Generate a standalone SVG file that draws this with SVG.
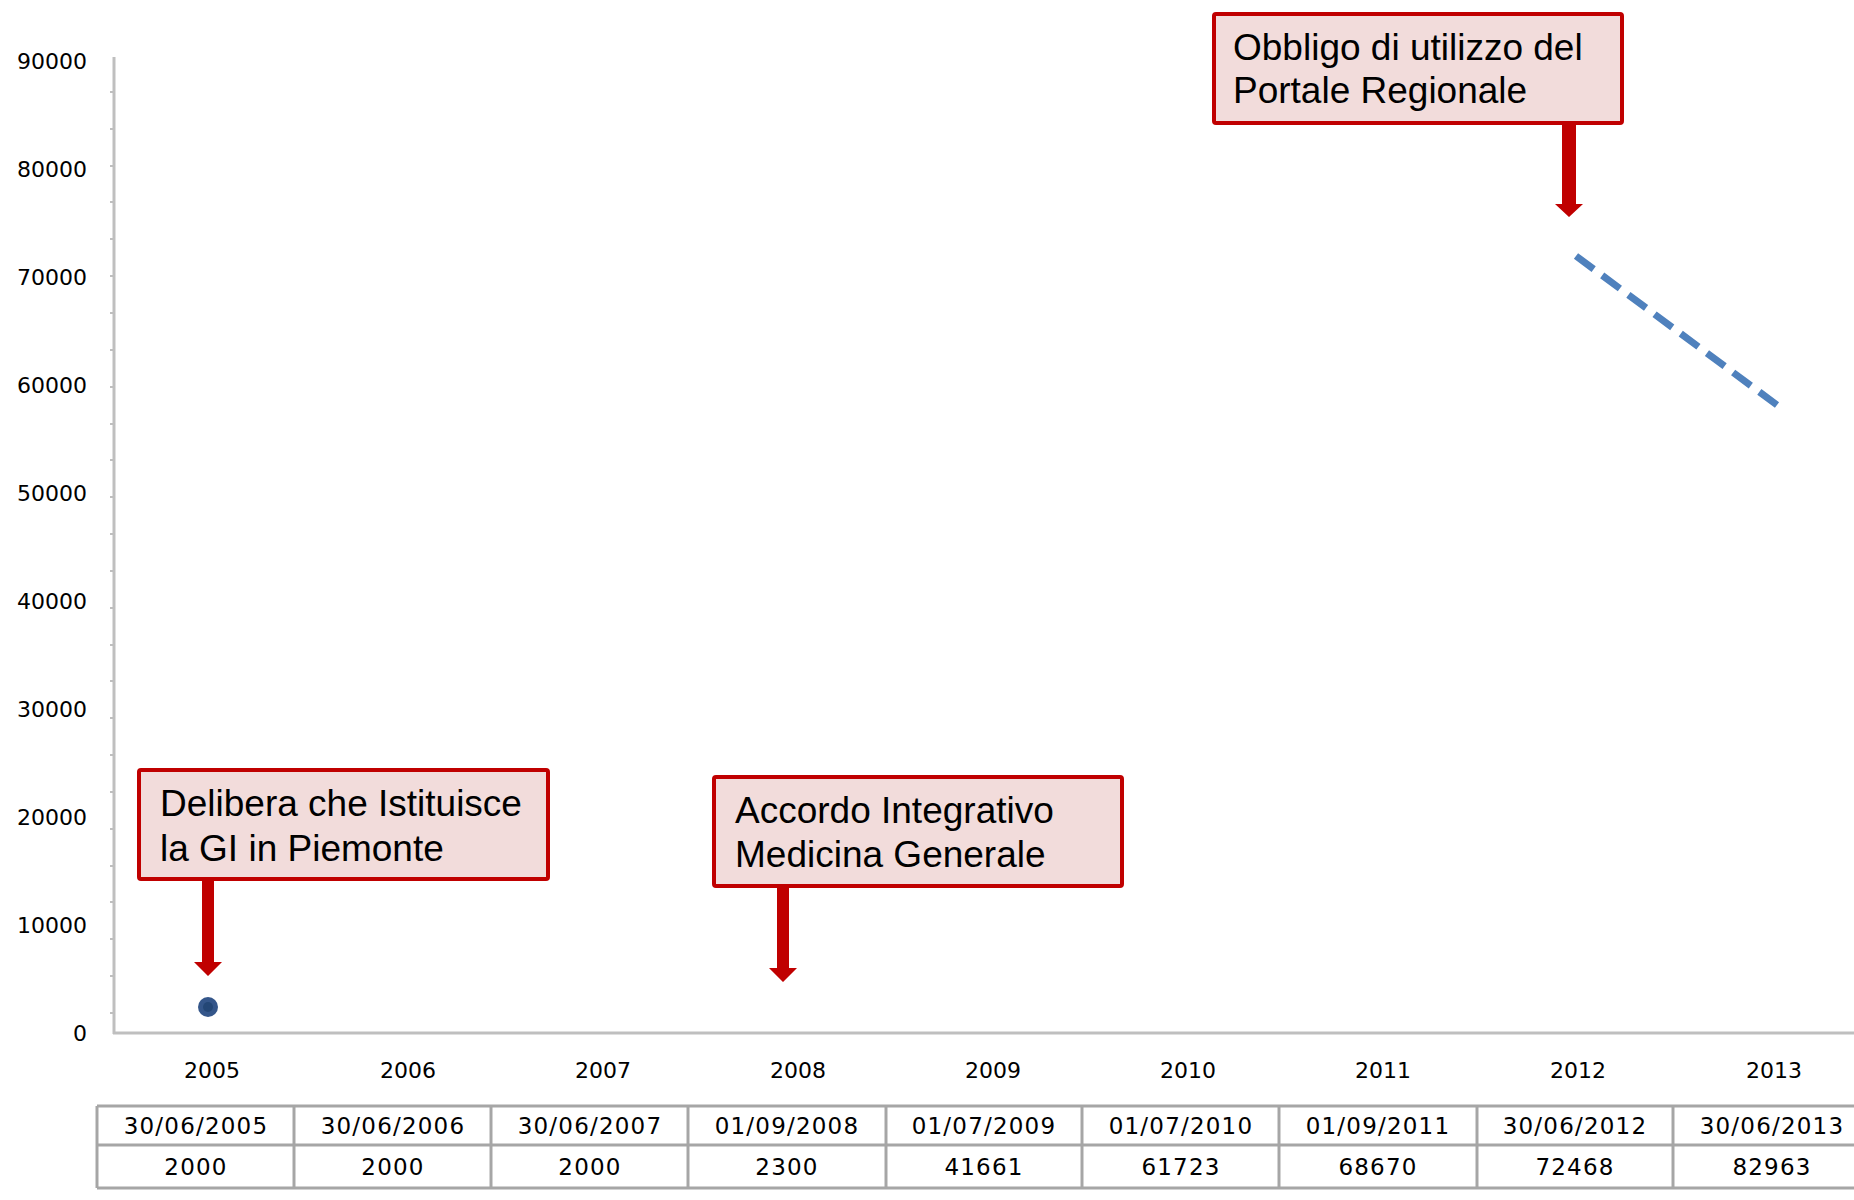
<svg xmlns="http://www.w3.org/2000/svg" width="1854" height="1200" viewBox="0 0 1854 1200">
<style>
.ax{stroke:#bfbfbf;stroke-width:3;fill:none}
.tk{stroke:#bfbfbf;stroke-width:2}
.yl{font-family:"DejaVu Sans",sans-serif;font-size:22px;fill:#000;text-anchor:end}
.xl{font-family:"DejaVu Sans",sans-serif;font-size:22px;fill:#000;text-anchor:middle}
.tb{font-family:"DejaVu Sans",sans-serif;font-size:23px;fill:#000;text-anchor:middle;letter-spacing:1.2px}
.tl{stroke:#a6a6a6;stroke-width:3;fill:none}
.box{fill:#f2dcdb;stroke:#c00000;stroke-width:4}
.bt{font-family:"Liberation Sans",Arial,sans-serif;font-size:37px;fill:#000}
.arr{fill:#c00000}
</style>
<rect width="1854" height="1200" fill="#fff"/>
<g id="axes">
<line class="ax" x1="114" y1="57" x2="114" y2="1034"/>
<line class="ax" x1="113" y1="1033" x2="1854" y2="1033"/>
<g class="tk">
<line x1="110" y1="92" x2="114" y2="92"/><line x1="110" y1="129" x2="114" y2="129"/><line x1="110" y1="166" x2="114" y2="166"/><line x1="110" y1="202" x2="114" y2="202"/><line x1="110" y1="239" x2="114" y2="239"/><line x1="110" y1="276" x2="114" y2="276"/><line x1="110" y1="313" x2="114" y2="313"/><line x1="110" y1="350" x2="114" y2="350"/><line x1="110" y1="387" x2="114" y2="387"/><line x1="110" y1="424" x2="114" y2="424"/><line x1="110" y1="460" x2="114" y2="460"/><line x1="110" y1="497" x2="114" y2="497"/><line x1="110" y1="534" x2="114" y2="534"/><line x1="110" y1="571" x2="114" y2="571"/><line x1="110" y1="608" x2="114" y2="608"/><line x1="110" y1="645" x2="114" y2="645"/><line x1="110" y1="681" x2="114" y2="681"/><line x1="110" y1="718" x2="114" y2="718"/><line x1="110" y1="755" x2="114" y2="755"/><line x1="110" y1="792" x2="114" y2="792"/><line x1="110" y1="829" x2="114" y2="829"/><line x1="110" y1="866" x2="114" y2="866"/><line x1="110" y1="902" x2="114" y2="902"/><line x1="110" y1="939" x2="114" y2="939"/><line x1="110" y1="976" x2="114" y2="976"/><line x1="110" y1="1013" x2="114" y2="1013"/>
</g>
<g class="yl">
<text x="87" y="69">90000</text>
<text x="87" y="177">80000</text>
<text x="87" y="285">70000</text>
<text x="87" y="393">60000</text>
<text x="87" y="501">50000</text>
<text x="87" y="609">40000</text>
<text x="87" y="717">30000</text>
<text x="87" y="825">20000</text>
<text x="87" y="933">10000</text>
<text x="87" y="1041">0</text>
</g>
<g class="xl">
<text x="212" y="1078">2005</text>
<text x="408" y="1078">2006</text>
<text x="603" y="1078">2007</text>
<text x="798" y="1078">2008</text>
<text x="993" y="1078">2009</text>
<text x="1188" y="1078">2010</text>
<text x="1383" y="1078">2011</text>
<text x="1578" y="1078">2012</text>
<text x="1774" y="1078">2013</text>
</g>
</g>
<g id="series">
<circle cx="208" cy="1007" r="10" fill="#34568a"/>
<circle cx="208" cy="1007" r="5" fill="#244776"/>
<line x1="1576" y1="256" x2="1777" y2="405" stroke="#4f81bd" stroke-width="7" stroke-dasharray="22 10.6"/>
</g>
<g id="table">
<line class="tl" x1="97" y1="1106" x2="1854" y2="1106"/>
<line class="tl" x1="97" y1="1145" x2="1854" y2="1145"/>
<line class="tl" x1="97" y1="1188" x2="1854" y2="1188"/>
<line class="tl" x1="97" y1="1106" x2="97" y2="1188"/>
<line class="tl" x1="294" y1="1106" x2="294" y2="1188"/>
<line class="tl" x1="491" y1="1106" x2="491" y2="1188"/>
<line class="tl" x1="688" y1="1106" x2="688" y2="1188"/>
<line class="tl" x1="886" y1="1106" x2="886" y2="1188"/>
<line class="tl" x1="1082" y1="1106" x2="1082" y2="1188"/>
<line class="tl" x1="1279" y1="1106" x2="1279" y2="1188"/>
<line class="tl" x1="1477" y1="1106" x2="1477" y2="1188"/>
<line class="tl" x1="1673" y1="1106" x2="1673" y2="1188"/>
<g class="tb">
<text x="196" y="1134">30/06/2005</text>
<text x="393" y="1134">30/06/2006</text>
<text x="590" y="1134">30/06/2007</text>
<text x="787" y="1134">01/09/2008</text>
<text x="984" y="1134">01/07/2009</text>
<text x="1181" y="1134">01/07/2010</text>
<text x="1378" y="1134">01/09/2011</text>
<text x="1575" y="1134">30/06/2012</text>
<text x="1772" y="1134">30/06/2013</text>
<text x="196" y="1175">2000</text>
<text x="393" y="1175">2000</text>
<text x="590" y="1175">2000</text>
<text x="787" y="1175">2300</text>
<text x="984" y="1175">41661</text>
<text x="1181" y="1175">61723</text>
<text x="1378" y="1175">68670</text>
<text x="1575" y="1175">72468</text>
<text x="1772" y="1175">82963</text>
</g>
</g>
<g id="callout-delibera">
<rect class="box" x="139" y="770" width="409" height="109" rx="2"/>
<text class="bt" x="160" y="816">Delibera che Istituisce</text>
<text class="bt" x="160" y="861">la GI in Piemonte</text>
</g>
<g id="callout-accordo">
<rect class="box" x="714" y="777" width="408" height="109" rx="2"/>
<text class="bt" x="735" y="823">Accordo Integrativo</text>
<text class="bt" x="735" y="867">Medicina Generale</text>
</g>
<g id="callout-obbligo">
<rect class="box" x="1214" y="14" width="408" height="109" rx="2"/>
<text class="bt" x="1233" y="60">Obbligo di utilizzo del</text>
<text class="bt" x="1233" y="103">Portale Regionale</text>
</g>
<g id="connectors">
<polygon class="arr" points="202,881 214,881 214,962 222,962 208,976 194,962 202,962"/>
<polygon class="arr" points="777,888 789,888 789,968 797,968 783,982 769,968 777,968"/>
<polygon class="arr" points="1562,125 1576,125 1576,204 1583,204 1569,217 1555,204 1562,204"/>
</g>
</svg>
